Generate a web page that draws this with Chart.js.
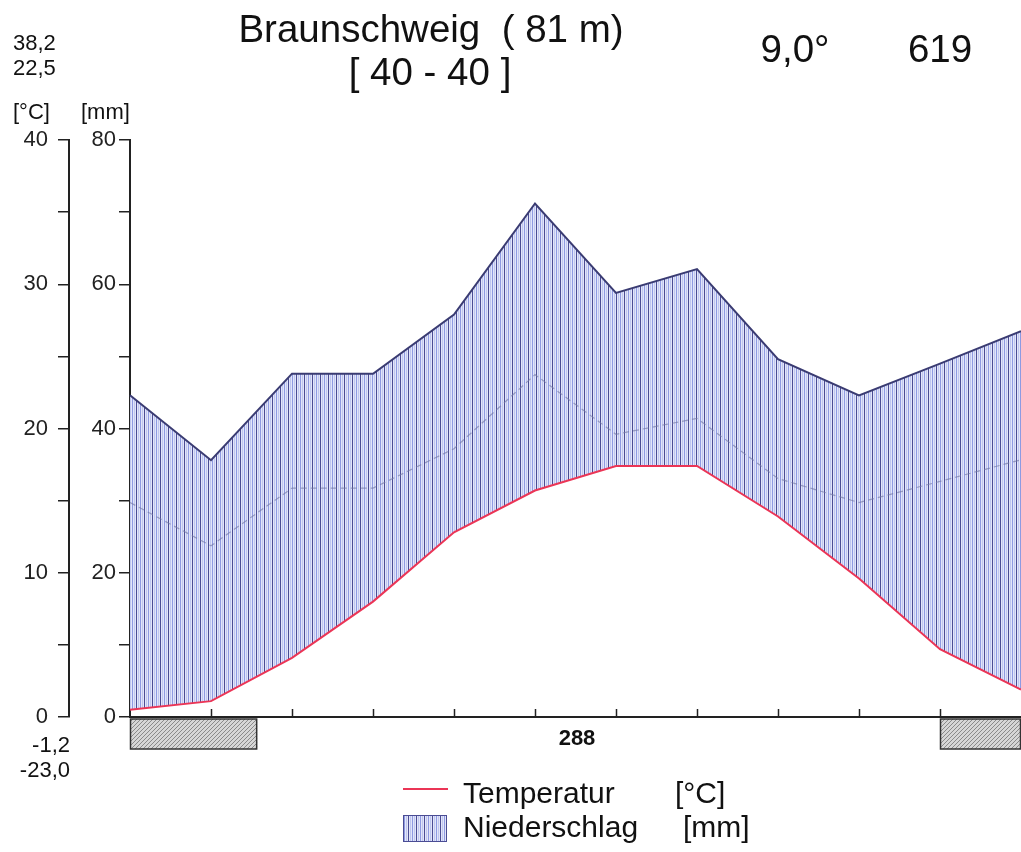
<!DOCTYPE html>
<html>
<head>
<meta charset="utf-8">
<title>Braunschweig</title>
<script src="https://cdn.jsdelivr.net/npm/chart.js@4/dist/chart.umd.min.js"></script>
<style>
  html, body { margin: 0; padding: 0; background: #fff; }
  #wrap { width: 1021px; height: 852px; }
</style>
</head>
<body>
<div id="wrap"><canvas id="chart" width="1021" height="852"></canvas></div>
<script>
// monthly means, Jan..Dec
var months = ['Jan', 'Feb', 'Mär', 'Apr', 'Mai', 'Jun', 'Jul', 'Aug', 'Sep', 'Okt', 'Nov', 'Dez'];
var temperature = [0.5, 1.1, 4.1, 8.0, 12.8, 15.7, 17.4, 17.4, 13.9, 9.6, 4.7, 1.9];
var precipitation = [44.6, 35.6, 47.6, 47.6, 55.8, 71.2, 58.8, 62.1, 49.6, 44.6, 49.0, 53.5];
var tempTicks = [0, 10, 20, 30, 40];
var precTicks = [0, 20, 40, 60, 80];
// frost periods in month units (start, end)
var frostSpans = [[0, 1.57], [10, 11]];
var station = 'Braunschweig  ( 81 m)';
var period = '[ 40 - 40 ]';
var meanTemp = '9,0°';
var sumPrec = '619';
var extremes = ['38,2', '22,5', '-1,2', '-23,0'];
var frostFree = '288';

var FONT = '"Liberation Sans", Arial, sans-serif';

function stripes() {
    var c = document.createElement('canvas');
    c.width = 8; c.height = 8;
    var g = c.getContext('2d');
    g.fillStyle = '#e2e5f8'; g.fillRect(0, 0, 8, 8);
    g.fillStyle = '#4a4c94'; g.fillRect(0, 0, 1, 8);
    g.fillStyle = '#8e9ae2'; g.fillRect(4, 0, 1, 8);
    g.fillStyle = '#bfc6f0'; g.fillRect(2, 0, 1, 8); g.fillRect(6, 0, 1, 8);
    return g.createPattern(c, 'repeat');
}

function hatch() {
    var c = document.createElement('canvas');
    c.width = 4; c.height = 4;
    var g = c.getContext('2d');
    g.fillStyle = '#d6d6d6'; g.fillRect(0, 0, 4, 4);
    g.fillStyle = '#8a8a8a';
    for (var i = 0; i < 4; i++) g.fillRect(3 - i, i, 1, 1);
    return g.createPattern(c, 'repeat');
}

var ctx = document.getElementById('chart').getContext('2d');
var stripeFill = stripes();
var frostFill = hatch();

var extras = {
    id: 'extras',
    afterDraw: function (chart) {
        var c = chart.ctx, x = chart.scales.x, area = chart.chartArea;
        c.save();
        // x axis ticks pointing up
        c.strokeStyle = '#222'; c.lineWidth = 1.5;
        for (var i = 1; i < months.length - 1; i++) {
            var px = Math.round(x.getPixelForValue(i)) + 0.5;
            c.beginPath(); c.moveTo(px, area.bottom); c.lineTo(px, area.bottom - 8); c.stroke();
        }
        // frost bars under the axis
        frostSpans.forEach(function (s) {
            var x0 = x.getPixelForValue(s[0]), x1 = x.getPixelForValue(s[1]);
            c.fillStyle = frostFill;
            c.fillRect(x0, area.bottom + 2, x1 - x0, 30);
            c.strokeStyle = '#333'; c.lineWidth = 1.5;
            c.strokeRect(x0 + 0.5, area.bottom + 2, x1 - x0 - 1, 30);
        });

        c.fillStyle = '#111';
        c.textBaseline = 'alphabetic';
        c.font = '38.5px ' + FONT;
        c.textAlign = 'center';
        c.fillText(station, 431, 42);
        c.fillText(period, 430, 85);
        c.fillText(meanTemp, 795, 62);
        c.fillText(sumPrec, 940, 62);

        c.font = '22px ' + FONT;
        c.textAlign = 'left';
        c.fillText(extremes[0], 13, 50);
        c.fillText(extremes[1], 13, 75);
        c.fillText('[°C]', 13, 119);
        c.fillText('[mm]', 81, 119);
        c.textAlign = 'right';
        c.fillText(extremes[2], 70, 752);
        c.fillText(extremes[3], 70, 777);

        c.font = 'bold 22px ' + FONT;
        c.textAlign = 'center';
        c.fillText(frostFree, 577, 745);

        // legend
        c.font = '30px ' + FONT;
        c.textAlign = 'left';
        c.strokeStyle = chart.data.datasets[0].borderColor; c.lineWidth = 2;
        c.beginPath(); c.moveTo(403, 789); c.lineTo(448, 789); c.stroke();
        c.fillText('Temperatur', 463, 803);
        c.fillText('[°C]', 675, 803);
        c.fillStyle = stripeFill;
        c.fillRect(403, 815, 44, 27);
        c.strokeStyle = '#4a4c94'; c.lineWidth = 1;
        c.strokeRect(403.5, 815.5, 43, 26);
        c.fillStyle = '#111';
        c.fillText('Niederschlag', 463, 837);
        c.fillText('[mm]', 683, 837);
        c.restore();
    }
};

function yAxis(min, max, labels, width, weight, pad) {
    return {
        type: 'linear', position: 'left', min: min, max: max, weight: weight,
        border: { display: true, color: '#222', width: 2 },
        grid: { drawOnChartArea: false, tickLength: 11, color: '#222', lineWidth: 1.5 },
        ticks: {
            stepSize: (max - min) / 8, padding: pad, color: '#222',
            font: { family: FONT, size: 22 },
            callback: function (v) { return labels.indexOf(v) >= 0 ? v : ''; }
        },
        afterFit: function (s) { s.width = width; }
    };
}

var chart = new Chart(ctx, {
    type: 'line',
    data: {
        labels: months,
        datasets: [{
            label: 'Temperatur',
            data: temperature,
            yAxisID: 'yT',
            borderColor: '#eb3556',
            borderWidth: 2,
            pointRadius: 0,
            fill: false,
            order: 1
        }, {
            label: 'Niederschlag',
            data: precipitation,
            yAxisID: 'yP',
            borderColor: '#3a3b72',
            borderWidth: 2,
            pointRadius: 0,
            backgroundColor: stripeFill,
            fill: { target: 0 },
            order: 2
        }, {
            label: 'Niederschlag 1:3',
            data: precipitation,
            yAxisID: 'yP3',
            borderColor: 'rgba(115,120,165,0.65)',
            borderWidth: 1.2,
            borderDash: [6, 4],
            pointRadius: 0,
            fill: false,
            order: 0
        }]
    },
    options: {
        responsive: false,
        animation: false,
        layout: { padding: { top: 140, bottom: 135, left: 0, right: 0 } },
        plugins: { legend: { display: false }, tooltip: { enabled: false } },
        scales: {
            x: {
                type: 'category', offset: false,
                border: { display: true, color: '#222', width: 2 },
                grid: { display: false },
                ticks: { display: false },
                afterFit: function (s) { s.height = 0; }
            },
            yT: yAxis(0, 40, tempTicks, 69, 2, 10),
            yP: yAxis(0, 80, precTicks, 61, 1, 3),
            yP3: { type: 'linear', display: false, min: 0, max: 120 }
        }
    },
    plugins: [extras]
});
</script>
</body>
</html>
